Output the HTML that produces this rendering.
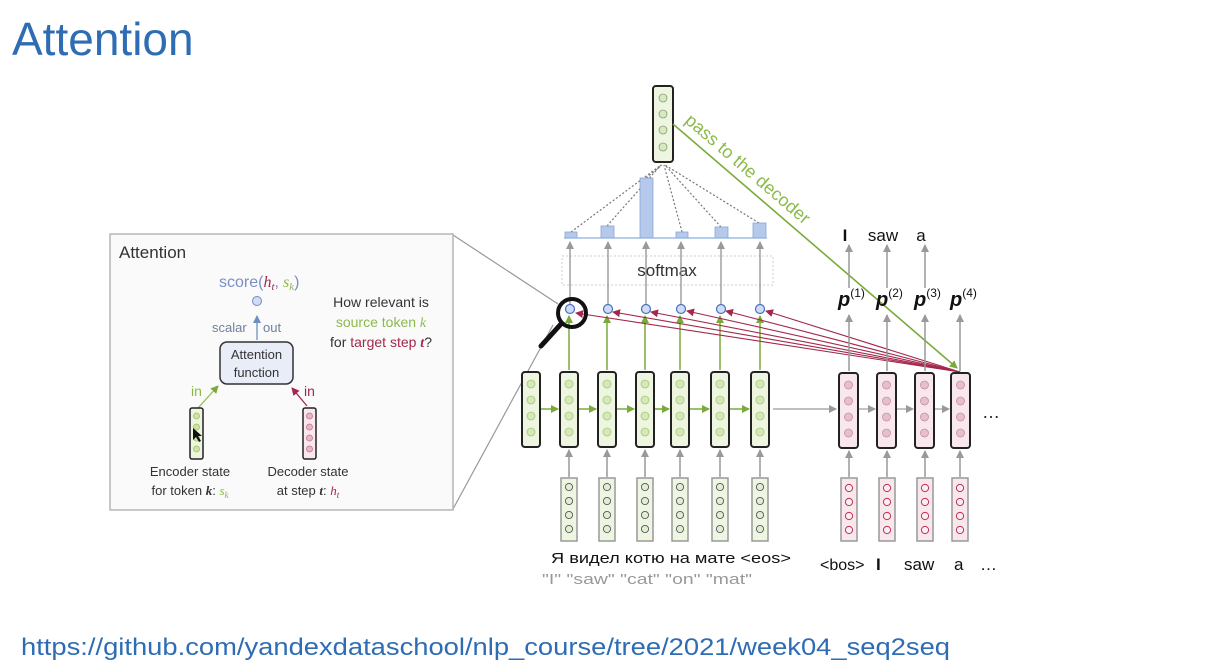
<!DOCTYPE html>
<html><head><meta charset="utf-8"><style>
html,body{margin:0;padding:0;background:#fff;}
svg{display:block;}
text{font-family:"Liberation Sans","DejaVu Sans",sans-serif;}
</style></head><body>
<svg width="1219" height="671" viewBox="0 0 1219 671" xmlns="http://www.w3.org/2000/svg">
<defs>
<marker id="ag" markerWidth="8" markerHeight="8" refX="7" refY="4" orient="auto" markerUnits="userSpaceOnUse"><path d="M0,0 L8,4 L0,8 z" fill="#999"/></marker>
<marker id="agr" markerWidth="8" markerHeight="8" refX="7" refY="4" orient="auto" markerUnits="userSpaceOnUse"><path d="M0,0 L8,4 L0,8 z" fill="#7aab3a"/></marker>
<marker id="ar" markerWidth="8" markerHeight="8" refX="7" refY="4" orient="auto" markerUnits="userSpaceOnUse"><path d="M0,0 L8,4 L0,8 z" fill="#a3284c"/></marker>
<marker id="ab" markerWidth="8" markerHeight="8" refX="7" refY="4" orient="auto" markerUnits="userSpaceOnUse"><path d="M0,0 L8,4 L0,8 z" fill="#6f8fc0"/></marker>
</defs>

<text x="12" y="55" font-size="46" fill="#2e6db4">Attention</text>
<text x="21" y="655" font-size="24" fill="#2e6db4" textLength="929" lengthAdjust="spacingAndGlyphs">https://github.com/yandexdataschool/nlp_course/tree/2021/week04_seq2seq</text>

<!-- zoom lines -->
<line x1="453" y1="235" x2="558" y2="304" stroke="#999" stroke-width="1.2"/>
<line x1="453" y1="509" x2="553" y2="325" stroke="#999" stroke-width="1.2"/>

<!-- left panel -->
<rect x="110" y="234" width="343" height="276" fill="#fafafa" stroke="#b5b5b5" stroke-width="1.5"/>
<text x="119" y="258" font-size="17" fill="#333">Attention</text>
<text x="219" y="287" font-size="16" fill="#7a8fc4">score(<tspan fill="#a3284c" font-style="italic" font-family="Liberation Serif">h<tspan font-size="11" dy="3">t</tspan></tspan><tspan dy="-3">,</tspan><tspan fill="#8cba4a" font-style="italic" font-family="Liberation Serif"> s<tspan font-size="11" dy="3">k</tspan></tspan><tspan dy="-3">)</tspan></text>
<circle cx="257" cy="301" r="4.5" fill="#cfdcf3" stroke="#6f8fc0"/>
<line x1="257" y1="340" x2="257" y2="316" stroke="#6f8fc0" stroke-width="1.3" marker-end="url(#ab)"/>
<text x="212" y="332" font-size="13" fill="#6f7fa0">scalar</text>
<text x="263" y="332" font-size="13" fill="#6f7fa0">out</text>
<rect x="220" y="342" width="73" height="42" rx="7" fill="#e8edf8" stroke="#333" stroke-width="1.5"/>
<text x="256.5" y="359" font-size="13" fill="#333" text-anchor="middle">Attention</text>
<text x="256.5" y="377" font-size="13" fill="#333" text-anchor="middle">function</text>
<line x1="198" y1="408" x2="218" y2="386" stroke="#8cba4a" stroke-width="1.2" marker-end="url(#agr)"/>
<line x1="307" y1="406" x2="292" y2="388" stroke="#a3284c" stroke-width="1.3" marker-end="url(#ar)"/>
<text x="191" y="396" font-size="14" fill="#8cba4a">in</text>
<text x="304" y="396" font-size="14" fill="#a3284c">in</text>
<rect x="190" y="408" width="13" height="51" rx="2" fill="#eef5e0" stroke="#222" stroke-width="1.5"/>
<g fill="#cfe3a8" stroke="#9cc25e" stroke-width="0.8"><circle cx="196.5" cy="416" r="3"/><circle cx="196.5" cy="427" r="3"/><circle cx="196.5" cy="438" r="3"/><circle cx="196.5" cy="449" r="3"/></g>
<rect x="303" y="408" width="13" height="51" rx="2" fill="#f8e8ee" stroke="#222" stroke-width="1.5"/>
<g fill="#e5b8c8" stroke="#c07090" stroke-width="0.8"><circle cx="309.5" cy="416" r="3"/><circle cx="309.5" cy="427" r="3"/><circle cx="309.5" cy="438" r="3"/><circle cx="309.5" cy="449" r="3"/></g>
<path d="M193,428 L193,440 L196,437 L199,442 L201,441 L198,436 L202,436 z" fill="#111"/>
<text x="190" y="476" font-size="13" fill="#333" text-anchor="middle">Encoder state</text>
<text x="190" y="495" font-size="13" fill="#333" text-anchor="middle">for token <tspan font-style="italic" font-family="Liberation Serif" font-weight="bold">k</tspan>: <tspan fill="#8cba4a" font-style="italic" font-family="Liberation Serif">s<tspan font-size="9" dy="3">k</tspan></tspan></text>
<text x="308" y="476" font-size="13" fill="#333" text-anchor="middle">Decoder state</text>
<text x="308" y="495" font-size="13" fill="#333" text-anchor="middle">at step <tspan font-style="italic" font-family="Liberation Serif" font-weight="bold">t</tspan>: <tspan fill="#a3284c" font-style="italic" font-family="Liberation Serif">h<tspan font-size="9" dy="3">t</tspan></tspan></text>
<text x="381" y="307" font-size="14" fill="#333" text-anchor="middle">How relevant is</text>
<text x="381" y="327" font-size="14" fill="#8cba4a" text-anchor="middle">source token <tspan font-style="italic" font-family="Liberation Serif">k</tspan></text>
<text x="381" y="347" font-size="14" fill="#333" text-anchor="middle">for <tspan fill="#a3284c">target step <tspan font-style="italic" font-family="Liberation Serif" font-weight="bold">t</tspan></tspan>?</text>

<!-- top vector -->
<rect x="653" y="86" width="20" height="76" rx="3" fill="#eef5e0" stroke="#222" stroke-width="2"/>
<g fill="#d8e8c0" stroke="#8aa070" stroke-width="0.8"><circle cx="663" cy="98" r="4"/><circle cx="663" cy="114" r="4"/><circle cx="663" cy="130" r="4"/><circle cx="663" cy="147" r="4"/></g>

<!-- dotted lines to top -->
<g stroke="#777" stroke-width="1.2" stroke-dasharray="2,2" fill="none">
<line x1="571" y1="232" x2="661" y2="165"/>
<line x1="607" y1="226" x2="661" y2="165"/>
<line x1="646" y1="178" x2="662" y2="165"/>
<line x1="682" y1="232" x2="664" y2="165"/>
<line x1="721" y1="227" x2="665" y2="165"/>
<line x1="759" y1="223" x2="665" y2="165"/>
</g>
<!-- bars -->
<g fill="#b5c9ea" stroke="#8aa6d6" stroke-width="0.8">
<rect x="565" y="232" width="12" height="6"/>
<rect x="601" y="226" width="13" height="12"/>
<rect x="640" y="178" width="13" height="60"/>
<rect x="676" y="232" width="12" height="6"/>
<rect x="715" y="227" width="13" height="11"/>
<rect x="753" y="223" width="13" height="15"/>
</g>
<line x1="564" y1="238" x2="767" y2="238" stroke="#8ab0e0" stroke-width="1.2"/>
<!-- softmax -->
<rect x="562" y="256" width="211" height="29" fill="#fff" stroke="#ccc" stroke-dasharray="2,2"/>
<text x="667" y="276" font-size="17" fill="#333" text-anchor="middle">softmax</text>
<g stroke="#888" stroke-width="1.2">
<line x1="570" y1="304" x2="570" y2="242" marker-end="url(#ag)"/>
<line x1="608" y1="304" x2="608" y2="242" marker-end="url(#ag)"/>
<line x1="646" y1="304" x2="646" y2="242" marker-end="url(#ag)"/>
<line x1="681" y1="304" x2="681" y2="242" marker-end="url(#ag)"/>
<line x1="721" y1="304" x2="721" y2="242" marker-end="url(#ag)"/>
<line x1="760" y1="304" x2="760" y2="242" marker-end="url(#ag)"/>
</g>

<!-- green up arrows enc->score -->
<g stroke="#7aab3a" stroke-width="1.5">
<line x1="569" y1="370" x2="569" y2="316" marker-end="url(#agr)"/>
<line x1="607" y1="370" x2="607" y2="316" marker-end="url(#agr)"/>
<line x1="645" y1="370" x2="645" y2="316" marker-end="url(#agr)"/>
<line x1="680" y1="370" x2="680" y2="316" marker-end="url(#agr)"/>
<line x1="720" y1="370" x2="720" y2="316" marker-end="url(#agr)"/>
<line x1="760" y1="370" x2="760" y2="316" marker-end="url(#agr)"/>
</g>
<!-- red lines -->
<g stroke="#a3284c" stroke-width="1.1">
<line x1="960" y1="372" x2="576" y2="313" marker-end="url(#ar)"/>
<line x1="960" y1="372" x2="613" y2="312" marker-end="url(#ar)"/>
<line x1="960" y1="372" x2="651" y2="312" marker-end="url(#ar)"/>
<line x1="960" y1="372" x2="687" y2="311" marker-end="url(#ar)"/>
<line x1="960" y1="372" x2="726" y2="311" marker-end="url(#ar)"/>
<line x1="960" y1="372" x2="766" y2="311" marker-end="url(#ar)"/>
</g>
<!-- score circles -->
<g fill="#cfdcf3" stroke="#4a72c0" stroke-width="1.2">
<circle cx="570" cy="309" r="4.5"/><circle cx="608" cy="309" r="4.5"/><circle cx="646" cy="309" r="4.5"/><circle cx="681" cy="309" r="4.5"/><circle cx="721" cy="309" r="4.5"/><circle cx="760" cy="309" r="4.5"/>
</g>
<!-- magnifier -->
<circle cx="572" cy="313" r="14" fill="none" stroke="#111" stroke-width="4"/>
<line x1="561" y1="324" x2="541" y2="346" stroke="#111" stroke-width="5" stroke-linecap="round"/>

<!-- green pass arrow -->
<line x1="673" y1="124" x2="957" y2="368" stroke="#7aab3a" stroke-width="1.6" marker-end="url(#agr)"/>
<text x="0" y="0" font-size="18" fill="#8cba4a" transform="translate(684,122) rotate(40.7)">pass to the decoder</text>

<!-- encoder states -->
<g fill="#eef5e0" stroke="#222" stroke-width="2">
<rect x="522" y="372" width="18" height="75" rx="3"/>
<rect x="560" y="372" width="18" height="75" rx="3"/>
<rect x="598" y="372" width="18" height="75" rx="3"/>
<rect x="636" y="372" width="18" height="75" rx="3"/>
<rect x="671" y="372" width="18" height="75" rx="3"/>
<rect x="711" y="372" width="18" height="75" rx="3"/>
<rect x="751" y="372" width="18" height="75" rx="3"/>
</g>
<g fill="#d5e8b5" stroke="#a8c880" stroke-width="0.8">
<circle cx="531" cy="384" r="4"/><circle cx="531" cy="400" r="4"/><circle cx="531" cy="416" r="4"/><circle cx="531" cy="432" r="4"/>
<circle cx="569" cy="384" r="4"/><circle cx="569" cy="400" r="4"/><circle cx="569" cy="416" r="4"/><circle cx="569" cy="432" r="4"/>
<circle cx="607" cy="384" r="4"/><circle cx="607" cy="400" r="4"/><circle cx="607" cy="416" r="4"/><circle cx="607" cy="432" r="4"/>
<circle cx="645" cy="384" r="4"/><circle cx="645" cy="400" r="4"/><circle cx="645" cy="416" r="4"/><circle cx="645" cy="432" r="4"/>
<circle cx="680" cy="384" r="4"/><circle cx="680" cy="400" r="4"/><circle cx="680" cy="416" r="4"/><circle cx="680" cy="432" r="4"/>
<circle cx="720" cy="384" r="4"/><circle cx="720" cy="400" r="4"/><circle cx="720" cy="416" r="4"/><circle cx="720" cy="432" r="4"/>
<circle cx="760" cy="384" r="4"/><circle cx="760" cy="400" r="4"/><circle cx="760" cy="416" r="4"/><circle cx="760" cy="432" r="4"/>
</g>
<g stroke="#7aab3a" stroke-width="1.6">
<line x1="541" y1="409" x2="558" y2="409" marker-end="url(#agr)"/>
<line x1="579" y1="409" x2="596" y2="409" marker-end="url(#agr)"/>
<line x1="617" y1="409" x2="634" y2="409" marker-end="url(#agr)"/>
<line x1="655" y1="409" x2="669" y2="409" marker-end="url(#agr)"/>
<line x1="690" y1="409" x2="709" y2="409" marker-end="url(#agr)"/>
<line x1="730" y1="409" x2="749" y2="409" marker-end="url(#agr)"/>
</g>
<line x1="773" y1="409" x2="836" y2="409" stroke="#aaa" stroke-width="1.4" marker-end="url(#ag)"/>

<!-- decoder states -->
<g fill="#f8e8ee" stroke="#222" stroke-width="2">
<rect x="839" y="373" width="19" height="75" rx="3"/>
<rect x="877" y="373" width="19" height="75" rx="3"/>
<rect x="915" y="373" width="19" height="75" rx="3"/>
<rect x="951" y="373" width="19" height="75" rx="3"/>
</g>
<g fill="#e5bfcd" stroke="#c890a5" stroke-width="0.8">
<circle cx="848.5" cy="385" r="4"/><circle cx="848.5" cy="401" r="4"/><circle cx="848.5" cy="417" r="4"/><circle cx="848.5" cy="433" r="4"/>
<circle cx="886.5" cy="385" r="4"/><circle cx="886.5" cy="401" r="4"/><circle cx="886.5" cy="417" r="4"/><circle cx="886.5" cy="433" r="4"/>
<circle cx="924.5" cy="385" r="4"/><circle cx="924.5" cy="401" r="4"/><circle cx="924.5" cy="417" r="4"/><circle cx="924.5" cy="433" r="4"/>
<circle cx="960.5" cy="385" r="4"/><circle cx="960.5" cy="401" r="4"/><circle cx="960.5" cy="417" r="4"/><circle cx="960.5" cy="433" r="4"/>
</g>
<g stroke="#aaa" stroke-width="1.4">
<line x1="859" y1="409" x2="875" y2="409" marker-end="url(#ag)"/>
<line x1="897" y1="409" x2="913" y2="409" marker-end="url(#ag)"/>
<line x1="935" y1="409" x2="949" y2="409" marker-end="url(#ag)"/>
</g>
<text x="982" y="418" font-size="18" fill="#222">…</text>

<!-- up arrows decoder -> p -> words -->
<g stroke="#999" stroke-width="1.5">
<line x1="849" y1="371" x2="849" y2="315" marker-end="url(#ag)"/>
<line x1="887" y1="371" x2="887" y2="315" marker-end="url(#ag)"/>
<line x1="925" y1="371" x2="925" y2="315" marker-end="url(#ag)"/>
<line x1="960" y1="371" x2="960" y2="315" marker-end="url(#ag)"/>
<line x1="849" y1="288" x2="849" y2="245" marker-end="url(#ag)"/>
<line x1="887" y1="288" x2="887" y2="245" marker-end="url(#ag)"/>
<line x1="925" y1="288" x2="925" y2="245" marker-end="url(#ag)"/>
</g>
<g font-family="Liberation Serif" font-style="italic" font-weight="bold" font-size="20" fill="#111">
<text x="838" y="306">p<tspan font-size="12" font-style="normal" font-weight="normal" dy="-9">(1)</tspan></text>
<text x="876" y="306">p<tspan font-size="12" font-style="normal" font-weight="normal" dy="-9">(2)</tspan></text>
<text x="914" y="306">p<tspan font-size="12" font-style="normal" font-weight="normal" dy="-9">(3)</tspan></text>
<text x="950" y="306">p<tspan font-size="12" font-style="normal" font-weight="normal" dy="-9">(4)</tspan></text>
</g>
<g font-size="17" fill="#111" text-anchor="middle">
<text x="845" y="241" font-family="Liberation Mono" font-weight="bold">I</text>
<text x="883" y="241">saw</text>
<text x="921" y="241">a</text>
</g>

<!-- input embeddings -->
<g stroke="#999" stroke-width="1.5">
<line x1="569" y1="477" x2="569" y2="450" marker-end="url(#ag)"/>
<line x1="607" y1="477" x2="607" y2="450" marker-end="url(#ag)"/>
<line x1="645" y1="477" x2="645" y2="450" marker-end="url(#ag)"/>
<line x1="680" y1="477" x2="680" y2="450" marker-end="url(#ag)"/>
<line x1="720" y1="477" x2="720" y2="450" marker-end="url(#ag)"/>
<line x1="760" y1="477" x2="760" y2="450" marker-end="url(#ag)"/>
<line x1="849" y1="477" x2="849" y2="451" marker-end="url(#ag)"/>
<line x1="887" y1="477" x2="887" y2="451" marker-end="url(#ag)"/>
<line x1="925" y1="477" x2="925" y2="451" marker-end="url(#ag)"/>
<line x1="960" y1="477" x2="960" y2="451" marker-end="url(#ag)"/>
</g>
<g fill="#eef5e0" stroke="#999" stroke-width="1.5">
<rect x="561" y="478" width="16" height="63"/><rect x="599" y="478" width="16" height="63"/><rect x="637" y="478" width="16" height="63"/><rect x="672" y="478" width="16" height="63"/><rect x="712" y="478" width="16" height="63"/><rect x="752" y="478" width="16" height="63"/>
</g>
<g fill="#e2eed0" stroke="#556" stroke-width="0.9">
<circle cx="569" cy="487" r="3.6"/><circle cx="569" cy="501" r="3.6"/><circle cx="569" cy="515" r="3.6"/><circle cx="569" cy="529" r="3.6"/>
<circle cx="607" cy="487" r="3.6"/><circle cx="607" cy="501" r="3.6"/><circle cx="607" cy="515" r="3.6"/><circle cx="607" cy="529" r="3.6"/>
<circle cx="645" cy="487" r="3.6"/><circle cx="645" cy="501" r="3.6"/><circle cx="645" cy="515" r="3.6"/><circle cx="645" cy="529" r="3.6"/>
<circle cx="680" cy="487" r="3.6"/><circle cx="680" cy="501" r="3.6"/><circle cx="680" cy="515" r="3.6"/><circle cx="680" cy="529" r="3.6"/>
<circle cx="720" cy="487" r="3.6"/><circle cx="720" cy="501" r="3.6"/><circle cx="720" cy="515" r="3.6"/><circle cx="720" cy="529" r="3.6"/>
<circle cx="760" cy="487" r="3.6"/><circle cx="760" cy="501" r="3.6"/><circle cx="760" cy="515" r="3.6"/><circle cx="760" cy="529" r="3.6"/>
</g>
<g fill="#f8e8ee" stroke="#999" stroke-width="1.5">
<rect x="841" y="478" width="16" height="63"/><rect x="879" y="478" width="16" height="63"/><rect x="917" y="478" width="16" height="63"/><rect x="952" y="478" width="16" height="63"/>
</g>
<g fill="#fbeef2" stroke="#c03050" stroke-width="1">
<circle cx="849" cy="488" r="3.6"/><circle cx="849" cy="502" r="3.6"/><circle cx="849" cy="516" r="3.6"/><circle cx="849" cy="530" r="3.6"/>
<circle cx="887" cy="488" r="3.6"/><circle cx="887" cy="502" r="3.6"/><circle cx="887" cy="516" r="3.6"/><circle cx="887" cy="530" r="3.6"/>
<circle cx="925" cy="488" r="3.6"/><circle cx="925" cy="502" r="3.6"/><circle cx="925" cy="516" r="3.6"/><circle cx="925" cy="530" r="3.6"/>
<circle cx="960" cy="488" r="3.6"/><circle cx="960" cy="502" r="3.6"/><circle cx="960" cy="516" r="3.6"/><circle cx="960" cy="530" r="3.6"/>
</g>

<text x="551" y="563" font-size="15" fill="#111" textLength="240" lengthAdjust="spacingAndGlyphs">Я видел котю на мате &lt;eos&gt;</text>
<text x="542" y="584" font-size="15" fill="#999" textLength="210" lengthAdjust="spacingAndGlyphs">"I" "saw" "cat" "on" "mat"</text>
<text x="820" y="570" font-size="16" fill="#111">&lt;bos&gt;</text>
<text x="876" y="570" font-size="17" fill="#111" font-family="Liberation Mono" font-weight="bold">I</text>
<text x="904" y="570" font-size="17" fill="#111">saw</text>
<text x="954" y="570" font-size="17" fill="#111">a</text>
<text x="980" y="570" font-size="17" fill="#111">…</text>
</svg>
</body></html>
